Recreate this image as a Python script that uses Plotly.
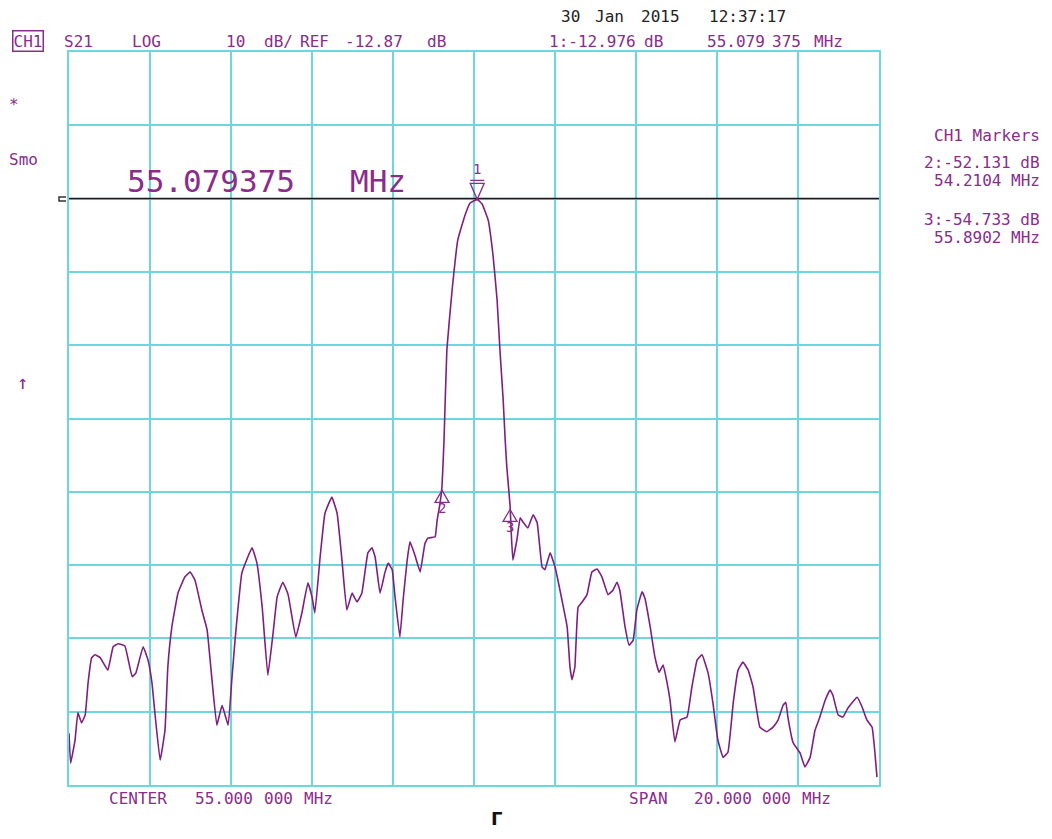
import plotly.graph_objects as go

# ---------------- data ----------------
freq_mhz = [
    45.00, 45.04, 45.15, 45.22, 45.31, 45.40, 45.47, 45.56, 45.64, 45.77,
    45.96, 46.09, 46.21, 46.38, 46.56, 46.65, 46.83, 46.95, 47.05, 47.12,
    47.25, 47.37, 47.44, 47.54, 47.69, 47.86, 47.99, 48.11, 48.28, 48.41,
    48.53, 48.65, 48.78, 48.93, 49.02, 49.10, 49.27, 49.52, 49.64, 49.77,
    49.91, 50.04, 50.14, 50.28, 50.41, 50.60, 50.75, 50.90, 51.00, 51.07,
    51.20, 51.32, 51.49, 51.62, 51.74, 51.86, 51.99, 52.11, 52.23, 52.38,
    52.48, 52.56, 52.68, 52.80, 52.88, 52.98, 53.05, 53.17, 53.25, 53.35,
    53.42, 53.54, 53.67, 53.79, 53.86, 54.04, 54.09, 54.16, 54.21, 54.26,
    54.33, 54.46, 54.60, 54.78, 54.90, 55.08, 55.20, 55.35, 55.47, 55.57,
    55.64, 55.72, 55.77, 55.81, 55.89, 55.92, 55.96, 56.06, 56.14, 56.21,
    56.33, 56.46, 56.56, 56.68, 56.75, 56.88, 57.00, 57.17, 57.30, 57.37,
    57.42, 57.49, 57.57, 57.67, 57.79, 57.91, 58.04, 58.16, 58.31, 58.43,
    58.53, 58.60, 58.73, 58.83, 58.93, 59.02, 59.15, 59.22, 59.35, 59.47,
    59.57, 59.67, 59.77, 59.84, 59.96, 60.09, 60.26, 60.38, 60.51, 60.63,
    60.78, 60.90, 61.02, 61.15, 61.27, 61.40, 61.52, 61.64, 61.77, 61.89,
    62.06, 62.23, 62.38, 62.51, 62.63, 62.70, 62.75, 62.88, 63.05, 63.17,
    63.30, 63.42, 63.54, 63.67, 63.79, 63.86, 63.99, 64.11, 64.23, 64.46,
    64.58, 64.70, 64.83, 64.90, 64.95,
]
s21_db = [
    -85.8, -89.9, -86.7, -83.0, -84.4, -83.3, -79.0, -75.5, -75.1, -75.5,
    -77.2, -74.0, -73.6, -73.9, -78.1, -77.6, -74.0, -75.8, -79.0, -83.0,
    -89.5, -85.4, -76.8, -71.3, -66.7, -64.5, -63.8, -64.9, -69.0, -71.7,
    -78.5, -84.7, -82.0, -84.7, -78.5, -73.1, -63.9, -60.5, -62.6, -68.6,
    -77.9, -72.1, -67.2, -65.2, -66.9, -72.7, -69.4, -65.3, -67.2, -69.4,
    -61.8, -55.8, -53.6, -55.8, -62.2, -69.0, -66.7, -67.9, -66.7, -61.2,
    -60.5, -61.8, -66.7, -63.9, -62.6, -63.5, -67.2, -72.7, -67.6, -62.2,
    -59.7, -61.5, -63.8, -59.9, -59.2, -59.0, -56.7, -54.5, -52.1, -45.8,
    -33.5, -25.3, -18.5, -15.1, -13.5, -12.98, -13.6, -15.8, -20.6, -26.7,
    -33.5, -40.3, -45.8, -49.5, -54.7, -58.5, -62.2, -59.4, -56.4, -57.0,
    -57.8, -56.0, -57.1, -63.1, -63.5, -61.2, -63.1, -67.6, -71.3, -76.8,
    -78.5, -76.8, -68.6, -67.9, -66.9, -63.8, -63.4, -64.5, -66.9, -66.3,
    -65.2, -66.3, -71.3, -73.8, -73.1, -69.0, -66.5, -67.4, -71.3, -75.5,
    -77.5, -76.5, -79.0, -81.3, -87.0, -84.0, -83.6, -79.5, -75.8, -75.1,
    -77.6, -81.7, -86.7, -89.1, -88.4, -81.7, -77.2, -76.1, -77.2, -79.5,
    -85.0, -85.6, -85.0, -84.0, -82.0, -81.6, -83.6, -87.1, -88.5, -90.4,
    -89.1, -85.4, -83.6, -81.3, -79.9, -80.6, -83.3, -83.6, -82.4, -80.9,
    -82.2, -84.0, -85.0, -88.5, -91.8,
]

center_mhz = 55.0
span_mhz = 20.0
ref_db = -12.87
db_per_div = 10.0
ref_div_from_top = 2

marker_ids = ["1", "2", "3"]
marker_freq = [55.079375, 54.2104, 55.8902]
marker_db = [-12.976, -52.131, -54.733]

header_date = ["30", "Jan", "2015", "12:37:17"]
header_left = ["S21", "LOG", "10", "dB/", "REF", "-12.87", "dB"]
header_marker = ["1:-12.976", "dB", "55.079", "375", "MHz"]
side_texts = ["CH1 Markers", "2:-52.131 dB", "54.2104 MHz", "3:-54.733 dB", "55.8902 MHz"]
bottom_center = ["CENTER", "55.000", "000", "MHz"]
bottom_span = ["SPAN", "20.000", "000", "MHz"]

# ---------------- styling ----------------
W, H = 1052, 839
OFF = 8                       # page body margin of the html page
PL, PR, PT, PB = 69, 879, 52, 785   # plot area in page pixels
FW, FH = W - 2 * OFF, H - 2 * OFF   # figure size
PURPLE = "#7E1F80"
TXT = "#8A2C8C"
CYAN = "#6CD8DE"
MONO = "DejaVu Sans Mono"

x_lo, x_hi = center_mhz - span_mhz / 2, center_mhz + span_mhz / 2
y_hi = ref_db + ref_div_from_top * db_per_div
y_lo = y_hi - 10 * db_per_div


def P(px, py):
    return (px - PL) / (PR - PL), (PB - py) / (PB - PT)


fig = go.Figure()
fig.add_trace(go.Scatter(
    x=freq_mhz, y=s21_db, mode="lines",
    line=dict(color=PURPLE, width=1.6, shape="spline", smoothing=0.3),
    hoverinfo="skip", showlegend=False,
))

annotations = []


def txt(text, px, py, size=16, color=TXT, anchor="left", **kw):
    xp, yp = P(px, py)
    annotations.append(dict(
        text=text, x=xp, y=yp, xref="paper", yref="paper",
        xanchor=anchor, yanchor="middle", showarrow=False,
        font=dict(family=MONO, size=size, color=color), **kw))


# header
for t, px in zip(header_date, [559, 593, 639, 707]):
    txt(t, px, 16, color="#222222")
txt("CH1", 27.5, 41.5, anchor="center", bordercolor=TXT, borderwidth=1.5, borderpad=0)
for t, px in zip(header_left, [62, 130, 224, 262, 298, 343, 425]):
    txt(t, px, 41.5)
for t, px in zip(header_marker, [547, 642, 705, 770, 812]):
    txt(t, px, 41.5)

# right side marker table
for t, py in zip(side_texts, [135, 162, 180, 219, 237]):
    txt(t, 1042, py, anchor="right")

# left side annunciators
txt("*", 7, 104)
txt("Smo", 7, 159)
txt("↑", 22, 382, size=19, anchor="center")

# big marker readout
txt("55.079375", 125, 181, size=31)
txt("MHz", 348, 181, size=31)

# bottom
for t, px in zip(bottom_center, [107, 193, 262, 302]):
    txt(t, px, 798)
for t, px in zip(bottom_span, [627, 692, 760, 800]):
    txt(t, px, 798)
annotations.append(dict(
    text="<b>Г</b>", x=P(497, 819)[0], y=P(497, 819)[1], xref="paper", yref="paper",
    xanchor="center", yanchor="middle", showarrow=False,
    font=dict(family="DejaVu Sans", size=18, color="#111111")))

# marker labels
label_shift = [30, -22, -22]
for mid, mf, md, sh in zip(marker_ids, marker_freq, marker_db, label_shift):
    annotations.append(dict(
        text=mid, x=mf, y=md, xref="x", yref="y", yshift=sh,
        showarrow=False, font=dict(family=MONO, size=14, color=TXT)))

shapes = []
# reference line
shapes.append(dict(type="line", xref="x", yref="y", x0=x_lo, x1=x_hi, y0=ref_db, y1=ref_db,
                   line=dict(color="#1a1a1a", width=1.5), layer="above"))
# reference position indicator, left of the grid
shapes.append(dict(type="path", xref="paper", yref="paper", xsizemode="pixel", ysizemode="pixel",
                   xanchor=0, yanchor=P(0, 199)[1],
                   path="M-3,2 L-10,2 L-10,-2 L-3,-2",
                   line=dict(color="#333333", width=1.5)))
# marker triangles
tri_paths = ["M0,0 L-7,16 L7,16 Z M-7,19 L7,19",
             "M0,-4 L-7,-16 L7,-16 Z",
             "M0,-4 L-7,-16 L7,-16 Z"]
for mf, md, pth in zip(marker_freq, marker_db, tri_paths):
    shapes.append(dict(type="path", xref="x", yref="y", xsizemode="pixel", ysizemode="pixel",
                       xanchor=mf, yanchor=md, path=pth,
                       line=dict(color=TXT, width=1.3), layer="above"))

axis_common = dict(showgrid=True, gridcolor=CYAN, gridwidth=2, zeroline=False,
                   showline=True, mirror=True, linecolor=CYAN, linewidth=2,
                   showticklabels=False, ticks="", fixedrange=True)

fig.update_layout(
    width=FW, height=FH,
    margin=dict(l=PL - OFF, r=FW - (PR - OFF), t=PT - OFF, b=FH - (PB - OFF), pad=0),
    paper_bgcolor="white", plot_bgcolor="white",
    xaxis=dict(range=[x_lo, x_hi], tick0=x_lo, dtick=span_mhz / 10, **axis_common),
    yaxis=dict(range=[y_lo, y_hi], tick0=y_lo, dtick=db_per_div, **axis_common),
    annotations=annotations, shapes=shapes, showlegend=False,
)

fig.write_html("out.html")
